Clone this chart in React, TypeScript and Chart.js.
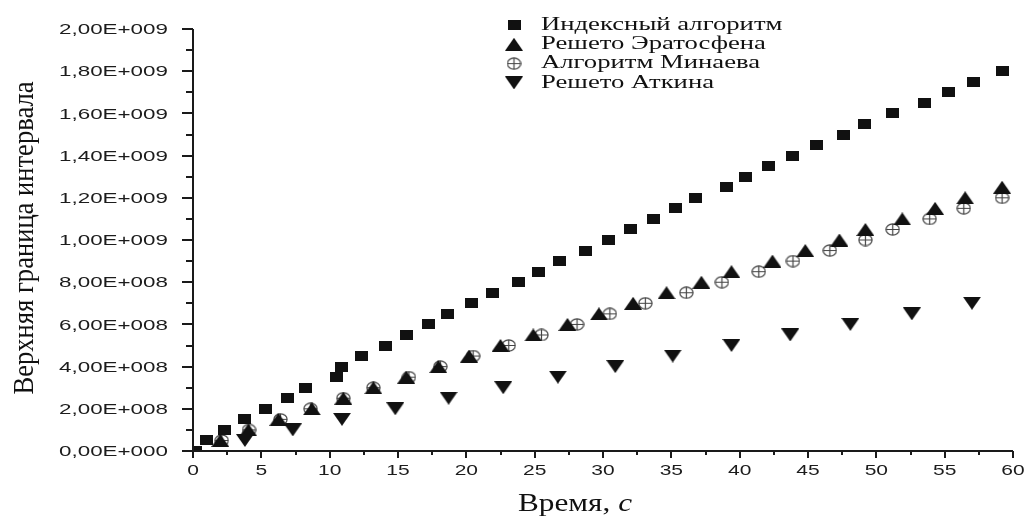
import { useEffect, useRef } from "react";
import { Chart, registerables } from "chart.js";

Chart.register(...registerables);

// ---- data (y values in units of 1e8) ----
const Y_UNIT = 1e8;
const SERIES_NAMES = ["Индексный алгоритм", "Решето Эратосфена", "Алгоритм Минаева", "Решето Аткина"];

const INDEX_X = [0.2, 1.0, 2.3, 3.8, 5.3, 6.9, 8.2, 10.5, 10.9, 12.3, 14.1, 15.6, 17.2, 18.6, 20.4, 21.9, 23.8, 25.3, 26.8, 28.7, 30.4, 32.0, 33.7, 35.3, 36.8, 39.0, 40.4, 42.1, 43.9, 45.6, 47.6, 49.1, 51.2, 53.5, 55.3, 57.1, 59.2];
const INDEX_Y = [0, 0.5, 1, 1.5, 2, 2.5, 3, 3.5, 4, 4.5, 5, 5.5, 6, 6.5, 7, 7.5, 8, 8.5, 9, 9.5, 10, 10.5, 11, 11.5, 12, 12.5, 13, 13.5, 14, 14.5, 15, 15.5, 16, 16.5, 17, 17.5, 18];

const ERAT_X = [2.0, 4.05, 6.25, 8.7, 11.0, 13.2, 15.6, 17.95, 20.2, 22.5, 24.9, 27.4, 29.7, 32.2, 34.65, 37.2, 39.4, 42.4, 44.8, 47.3, 49.2, 51.9, 54.3, 56.5, 59.2];
const ERAT_Y = [0.5, 1, 1.5, 2, 2.5, 3, 3.5, 4, 4.5, 5, 5.5, 6, 6.5, 7, 7.5, 8, 8.5, 9, 9.5, 10, 10.5, 11, 11.5, 12, 12.5];

const MINAEV_X = [2.1, 4.1, 6.4, 8.6, 11.0, 13.2, 15.8, 18.1, 20.5, 23.1, 25.5, 28.1, 30.5, 33.1, 36.1, 38.7, 41.4, 43.9, 46.6, 49.2, 51.2, 53.9, 56.4, 59.2];
const MINAEV_Y = [0.5, 1, 1.5, 2, 2.5, 3, 3.5, 4, 4.5, 5, 5.5, 6, 6.5, 7, 7.5, 8, 8.5, 9, 9.5, 10, 10.5, 11, 11.5, 12];

const ATKIN_X = [3.8, 7.3, 10.9, 14.8, 18.7, 22.7, 26.7, 30.9, 35.1, 39.4, 43.7, 48.1, 52.6, 57.0];
const ATKIN_Y = [0.5, 1, 1.5, 2, 2.5, 3, 3.5, 4, 4.5, 5, 5.5, 6, 6.5, 7];

// ---- ticks ----
const Y_TICK_VALUES = [0, 2, 4, 6, 8, 10, 12, 14, 16, 18, 20];
const Y_TICK_LABELS = ["0,00E+000", "2,00E+008", "4,00E+008", "6,00E+008", "8,00E+008", "1,00E+009", "1,20E+009", "1,40E+009", "1,60E+009", "1,80E+009", "2,00E+009"];
const Y_MINOR_VALUES = [1, 3, 5, 7, 9, 11, 13, 15, 17, 19];
const X_TICK_VALUES = [0, 5, 10, 15, 20, 25, 30, 35, 40, 45, 50, 55, 60];
const X_TICK_LABELS = ["0", "5", "10", "15", "20", "25", "30", "35", "40", "45", "50", "55", "60"];
const X_MINOR_VALUES = [2.5, 7.5, 12.5, 17.5, 22.5, 27.5, 32.5, 37.5, 42.5, 47.5, 52.5, 57.5];

const Y_TITLE = "Верхняя граница интервала";
const X_TITLE_MAIN = "Время, ";
const X_TITLE_UNIT = "с";

function toPoints(xs: number[], ys: number[]) {
  return xs.map((x, i) => ({ x, y: ys[i] * Y_UNIT }));
}

function makeMarker(kind: string): HTMLCanvasElement {
  const c = document.createElement("canvas");
  const g = c.getContext("2d")!;
  if (kind === "square") {
    c.width = 13; c.height = 10;
    g.fillStyle = "#111";
    g.fillRect(0, 0, 13, 10);
  } else if (kind === "up") {
    c.width = 18; c.height = 13;
    g.fillStyle = "#111";
    g.beginPath(); g.moveTo(9, 0); g.lineTo(18, 13); g.lineTo(0, 13); g.closePath(); g.fill();
  } else if (kind === "down") {
    c.width = 18; c.height = 13;
    g.fillStyle = "#111";
    g.beginPath(); g.moveTo(0, 0); g.lineTo(18, 0); g.lineTo(9, 13); g.closePath(); g.fill();
  } else {
    c.width = 15; c.height = 13;
    g.strokeStyle = "#444";
    g.lineWidth = 1.2;
    g.beginPath(); g.ellipse(7.5, 6.5, 6.6, 5.6, 0, 0, Math.PI * 2); g.stroke();
    g.beginPath(); g.moveTo(1, 6.5); g.lineTo(14, 6.5); g.moveTo(7.5, 1); g.lineTo(7.5, 12); g.stroke();
  }
  return c;
}

export default function App() {
  const ref = useRef<HTMLCanvasElement | null>(null);

  useEffect(() => {
    if (!ref.current) return;
    const markers = [makeMarker("square"), makeMarker("up"), makeMarker("plus"), makeMarker("down")];

    const decor = {
      id: "decor",
      afterDraw(chart: any) {
        const { ctx, chartArea: a, scales } = chart;
        const xs = scales.x, ys = scales.y;
        ctx.save();
        ctx.strokeStyle = "#1a1a1a";
        ctx.fillStyle = "#1c1c1c";
        ctx.lineWidth = 2;
        // axis lines
        ctx.beginPath();
        ctx.moveTo(a.left, a.top);
        ctx.lineTo(a.left, a.bottom);
        ctx.lineTo(a.right, a.bottom);
        ctx.stroke();
        // y ticks
        ctx.beginPath();
        Y_TICK_VALUES.forEach((v) => {
          const p = Math.round(ys.getPixelForValue(v * Y_UNIT));
          ctx.moveTo(a.left - 11, p); ctx.lineTo(a.left, p);
        });
        Y_MINOR_VALUES.forEach((v) => {
          const p = Math.round(ys.getPixelForValue(v * Y_UNIT));
          ctx.moveTo(a.left - 7, p); ctx.lineTo(a.left, p);
        });
        // x ticks
        X_TICK_VALUES.forEach((v) => {
          const p = Math.round(xs.getPixelForValue(v));
          ctx.moveTo(p, a.bottom); ctx.lineTo(p, a.bottom + 7);
        });
        X_MINOR_VALUES.forEach((v) => {
          const p = Math.round(xs.getPixelForValue(v));
          ctx.moveTo(p, a.bottom); ctx.lineTo(p, a.bottom + 4);
        });
        ctx.stroke();

        // y tick labels (horizontally stretched sans)
        ctx.font = '15px "Liberation Sans", Arial, sans-serif';
        const sy = 109 / ctx.measureText("2,00E+009").width;
        ctx.textAlign = "right";
        ctx.textBaseline = "middle";
        Y_TICK_VALUES.forEach((v, i) => {
          const p = ys.getPixelForValue(v * Y_UNIT);
          ctx.save();
          ctx.translate(a.left - 25, p + 1);
          ctx.scale(sy, 1);
          ctx.fillText(Y_TICK_LABELS[i], 0, 0);
          ctx.restore();
        });
        // x tick labels
        ctx.font = '14px "Liberation Sans", Arial, sans-serif';
        ctx.textAlign = "center";
        X_TICK_VALUES.forEach((v, i) => {
          const p = xs.getPixelForValue(v);
          ctx.save();
          ctx.translate(p, a.bottom + 20);
          ctx.scale(1.5, 1);
          ctx.fillText(X_TICK_LABELS[i], 0, 0);
          ctx.restore();
        });

        // y title
        ctx.fillStyle = "#111";
        ctx.font = '26px "Liberation Serif", "Times New Roman", serif';
        const tw = ctx.measureText(Y_TITLE).width;
        ctx.save();
        ctx.translate(25, 238);
        ctx.rotate(-Math.PI / 2);
        ctx.scale(313 / tw, 1.1);
        ctx.textAlign = "center";
        ctx.textBaseline = "middle";
        ctx.fillText(Y_TITLE, 0, 0);
        ctx.restore();

        // x title with italic unit
        const fMain = '25px "Liberation Serif", "Times New Roman", serif';
        const fIt = 'italic 25px "Liberation Serif", "Times New Roman", serif';
        ctx.font = fMain;
        const w1 = ctx.measureText(X_TITLE_MAIN).width;
        ctx.font = fIt;
        const w2 = ctx.measureText(X_TITLE_UNIT).width;
        const sx = 114 / (w1 + w2);
        ctx.save();
        ctx.translate(518, 511);
        ctx.scale(sx, 1);
        ctx.textAlign = "left";
        ctx.textBaseline = "alphabetic";
        ctx.font = fMain;
        ctx.fillText(X_TITLE_MAIN, 0, 0);
        ctx.font = fIt;
        ctx.fillText(X_TITLE_UNIT, w1, 0);
        ctx.restore();

        // legend
        ctx.font = '18px "Liberation Serif", "Times New Roman", serif';
        const sl = 173 / ctx.measureText(SERIES_NAMES[3]).width;
        ctx.textAlign = "left";
        ctx.textBaseline = "middle";
        SERIES_NAMES.forEach((name, i) => {
          const ry = 25 + i * 19.3;
          const m = markers[i];
          ctx.drawImage(m, 514 - m.width / 2, ry - m.height / 2);
          ctx.save();
          ctx.translate(541, ry);
          ctx.scale(sl, 1);
          ctx.fillText(name, 0, 0);
          ctx.restore();
        });
        ctx.restore();
      },
    };

    const seriesData = [
      toPoints(INDEX_X, INDEX_Y),
      toPoints(ERAT_X, ERAT_Y),
      toPoints(MINAEV_X, MINAEV_Y),
      toPoints(ATKIN_X, ATKIN_Y),
    ];

    const chart = new Chart(ref.current, {
      type: "scatter",
      data: {
        datasets: seriesData.map((d, i) => ({
          label: SERIES_NAMES[i],
          data: d,
          pointStyle: markers[i] as any,
          pointRadius: 6,
          showLine: false,
          backgroundColor: "#111",
          borderColor: "#111",
        })),
      },
      options: {
        responsive: false,
        animation: false,
        layout: { padding: { left: 193, right: 14, top: 29, bottom: 68 } },
        plugins: { legend: { display: false }, tooltip: { enabled: false } },
        scales: {
          x: { type: "linear", min: 0, max: 60, display: false },
          y: { type: "linear", min: 0, max: 20 * Y_UNIT, display: false },
        },
      },
      plugins: [decor],
    });
    return () => chart.destroy();
  }, []);

  return (
    <div style={{ position: "fixed", left: 0, top: 0, width: 1027, height: 519, background: "#fff" }}>
      <canvas ref={ref} width={1027} height={519} style={{ display: "block" }} />
    </div>
  );
}
